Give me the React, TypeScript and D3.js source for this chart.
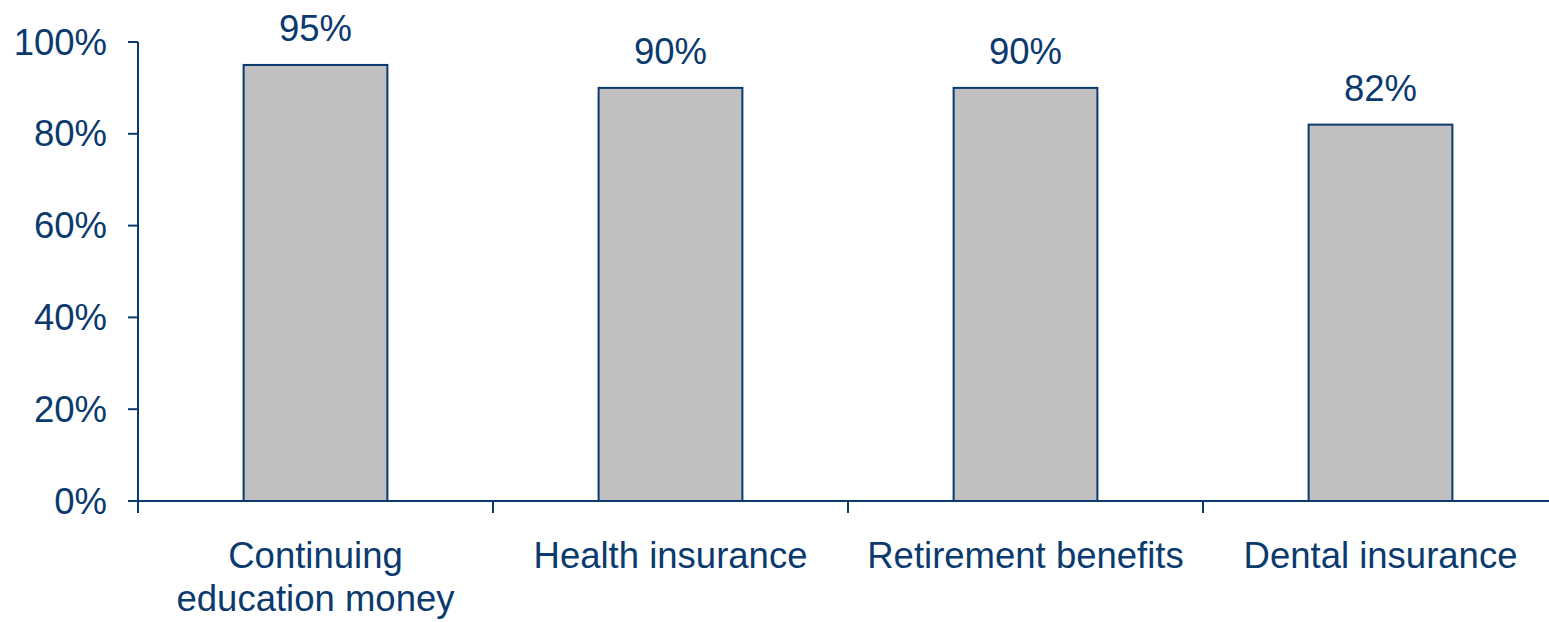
import React from "react";
import * as d3 from "d3";

const categories: string[][] = [
  ["Continuing", "education money"],
  ["Health insurance"],
  ["Retirement benefits"],
  ["Dental insurance"],
];
const values: number[] = [95, 90, 90, 82];
const yTicks: number[] = [0, 20, 40, 60, 80, 100];

const W = 1549;
const H = 622;
const NAVY = "#0b3a6e";
const FONT = "'Liberation Sans', Arial, sans-serif";
const FS = 36.5;

export default function App() {
  const x0 = 138;
  const bandW = 355;
  const x = d3
    .scaleBand<number>()
    .domain(d3.range(categories.length))
    .range([x0, x0 + bandW * categories.length])
    .paddingInner(0.595)
    .paddingOuter(0.595 / 2);
  const y = d3.scaleLinear().domain([0, 100]).range([501, 42]);
  const fmt = (v: number) => `${v}%`;

  return (
    <svg
      width={W}
      height={H}
      style={{ position: "absolute", left: 0, top: 0, background: "#fff" }}
      fontFamily={FONT}
    >
      {/* bars */}
      {values.map((v, i) => (
        <rect
          key={i}
          x={x(i)!}
          y={y(v)}
          width={x.bandwidth()}
          height={y(0) - y(v)}
          fill="#c0c0c0"
          stroke={NAVY}
          strokeWidth={2}
        />
      ))}
      {/* value labels */}
      {values.map((v, i) => (
        <text
          key={i}
          x={x(i)! + x.bandwidth() / 2}
          y={y(v) - 24}
          textAnchor="middle"
          fontSize={FS}
          fill={NAVY}
        >
          {fmt(v)}
        </text>
      ))}
      {/* y axis */}
      <line x1={x0} x2={x0} y1={y(100)} y2={y(0)} stroke={NAVY} strokeWidth={2} />
      {yTicks.map((t) => (
        <g key={t}>
          <line x1={x0 - 10} x2={x0} y1={y(t)} y2={y(t)} stroke={NAVY} strokeWidth={2} />
          <text
            x={x0 - 31}
            y={y(t) + 12.5}
            textAnchor="end"
            fontSize={FS}
            fill={NAVY}
          >
            {fmt(t)}
          </text>
        </g>
      ))}
      {/* x axis */}
      <line x1={x0} x2={W} y1={y(0)} y2={y(0)} stroke={NAVY} strokeWidth={2} />
      {categories.map((_, i) => (
        <line
          key={i}
          x1={x0 + bandW * i}
          x2={x0 + bandW * i}
          y1={y(0)}
          y2={y(0) + 12}
          stroke={NAVY}
          strokeWidth={2}
        />
      ))}
      {categories.map((lines, i) => (
        <text
          key={i}
          x={x(i)! + x.bandwidth() / 2}
          y={568}
          textAnchor="middle"
          fontSize={FS}
          fill={NAVY}
        >
          {lines.map((l, j) => (
            <tspan key={j} x={x(i)! + x.bandwidth() / 2} dy={j === 0 ? 0 : 43}>
              {l}
            </tspan>
          ))}
        </text>
      ))}
    </svg>
  );
}
